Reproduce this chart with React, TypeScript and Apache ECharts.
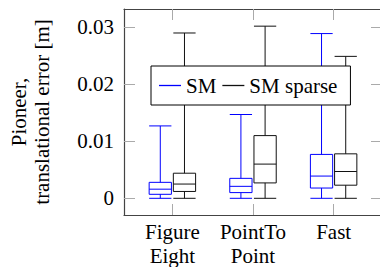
import React, { useEffect, useRef } from "react";
import * as echarts from "echarts";

const categories = ["Figure\nEight", "PointTo\nPoint", "Fast"];
const categoryPositions = [1, 2, 3];
const yTicks = [0, 0.01, 0.02, 0.03];

const smMin = [0, 0, 0];
const smQ1 = [0.0007, 0.001, 0.0018];
const smMedian = [0.0016, 0.0021, 0.0039];
const smQ3 = [0.0028, 0.0035, 0.0077];
const smMax = [0.0127, 0.0147, 0.0289];

const spMin = [0, 0, 0];
const spQ1 = [0.0012, 0.0027, 0.0023];
const spMedian = [0.0025, 0.006, 0.0047];
const spQ3 = [0.0044, 0.011, 0.0078];
const spMax = [0.029, 0.0302, 0.0249];

const FONT = "Liberation Serif";
const BLUE = "#0000ff";
const BLACK = "#111111";

function boxSeries(name: string, color: string, offset: number, mins: number[], q1: number[], med: number[], q3: number[], maxs: number[]) {
  const data = categoryPositions.map((x, i) => [x, mins[i], q1[i], med[i], q3[i], maxs[i]]);
  const hw = 0.138;
  return {
    type: "custom",
    name,
    itemStyle: { color },
    data,
    encode: { x: 0, y: [1, 2, 3, 4, 5] },
    renderItem: (params: any, api: any) => {
      const x = api.value(0) + offset;
      const c = (xv: number, yv: number) => api.coord([xv, yv]);
      const vMin = api.value(1), vQ1 = api.value(2), vMed = api.value(3), vQ3 = api.value(4), vMax = api.value(5);
      const style = { stroke: color, lineWidth: 1, fill: "none" };
      const L = (a: number[], b: number[]) => ({ type: "line", shape: { x1: a[0], y1: a[1], x2: b[0], y2: b[1] }, style });
      const tl = c(x - hw, vQ3);
      const br = c(x + hw, vQ1);
      return {
        type: "group",
        children: [
          { type: "rect", shape: { x: tl[0], y: tl[1], width: br[0] - tl[0], height: br[1] - tl[1] }, style },
          L(c(x - hw, vMed), c(x + hw, vMed)),
          L(c(x, vQ3), c(x, vMax)),
          L(c(x, vQ1), c(x, vMin)),
          L(c(x - hw, vMax), c(x + hw, vMax)),
          L(c(x - hw, vMin), c(x + hw, vMin)),
        ],
      };
    },
  };
}

export default function App() {
  const ref = useRef<HTMLDivElement>(null);
  useEffect(() => {
    if (!ref.current) return;
    document.body.style.margin = "0";
    document.body.style.overflow = "hidden";
    const chart = echarts.init(ref.current, null, { renderer: "svg" });
    const axisLine = { show: true, onZero: false, lineStyle: { color: "#444", width: 1.2 } };
    const tickStyle = { color: "#aaa", width: 1 };
    chart.setOption({
      animation: false,
      backgroundColor: "#fff",
      grid: { left: 124, top: 9, width: 258, height: 206, containLabel: false, outerBoundsMode: "none" },
      legend: {
        left: 151,
        top: 66,
        orient: "horizontal",
        padding: [9, 13, 9, 8],
        itemGap: 6,
        itemWidth: 22,
        itemHeight: 1.3,
        icon: "rect",
        borderColor: "#000",
        borderWidth: 1,
        backgroundColor: "#fff",
        textStyle: { fontFamily: FONT, fontSize: 21, color: "#000" },
        data: ["SM", "SM sparse"],
        z: 10,
      },
      xAxis: [
        {
          type: "value",
          position: "bottom",
          min: 0.4,
          max: 3.6,
          axisLine,
          splitLine: { show: false },
          axisTick: { show: true, inside: true, length: 11, lineStyle: tickStyle, customValues: categoryPositions },
          axisLabel: {
            show: true,
            customValues: categoryPositions,
            margin: 5,
            fontFamily: FONT,
            fontSize: 21,
            lineHeight: 24,
            color: "#000",
            formatter: (v: number) => categories[categoryPositions.indexOf(Math.round(v))] ?? "",
          },
        },
        {
          type: "value",
          position: "top",
          min: 0.4,
          max: 3.6,
          axisLine,
          splitLine: { show: false },
          axisTick: { show: true, inside: true, length: 11, lineStyle: tickStyle, customValues: categoryPositions },
          axisLabel: { show: false },
        },
      ],
      yAxis: [
        {
          type: "value",
          position: "left",
          min: -0.00293,
          max: 0.03321,
          axisLine,
          splitLine: { show: false },
          axisTick: { show: true, inside: true, length: 11, lineStyle: tickStyle, customValues: yTicks },
          axisLabel: {
            show: true,
            customValues: yTicks,
            margin: 10,
            fontFamily: FONT,
            fontSize: 21,
            color: "#000",
            formatter: (v: number) => (Math.abs(v) < 1e-9 ? "0" : v.toFixed(2)),
          },
          name: "Pioneer,\ntranslational error [m]",
          nameLocation: "middle",
          nameRotate: 90,
          nameGap: 71,
          nameTextStyle: { fontFamily: FONT, fontSize: 21, lineHeight: 23, color: "#000" },
        },
        {
          type: "value",
          position: "right",
          min: -0.00293,
          max: 0.03321,
          axisLine: { show: false },
          splitLine: { show: false },
          axisTick: { show: true, inside: true, length: 11, lineStyle: tickStyle, customValues: yTicks },
          axisLabel: { show: false },
        },
      ],
      series: [
        boxSeries("SM", BLUE, -0.15, smMin, smQ1, smMedian, smQ3, smMax),
        boxSeries("SM sparse", BLACK, 0.15, spMin, spQ1, spMedian, spQ3, spMax),
      ],
    });
    return () => chart.dispose();
  }, []);
  return <div ref={ref} style={{ position: "absolute", left: 0, top: 0, width: 380, height: 267 }} />;
}
